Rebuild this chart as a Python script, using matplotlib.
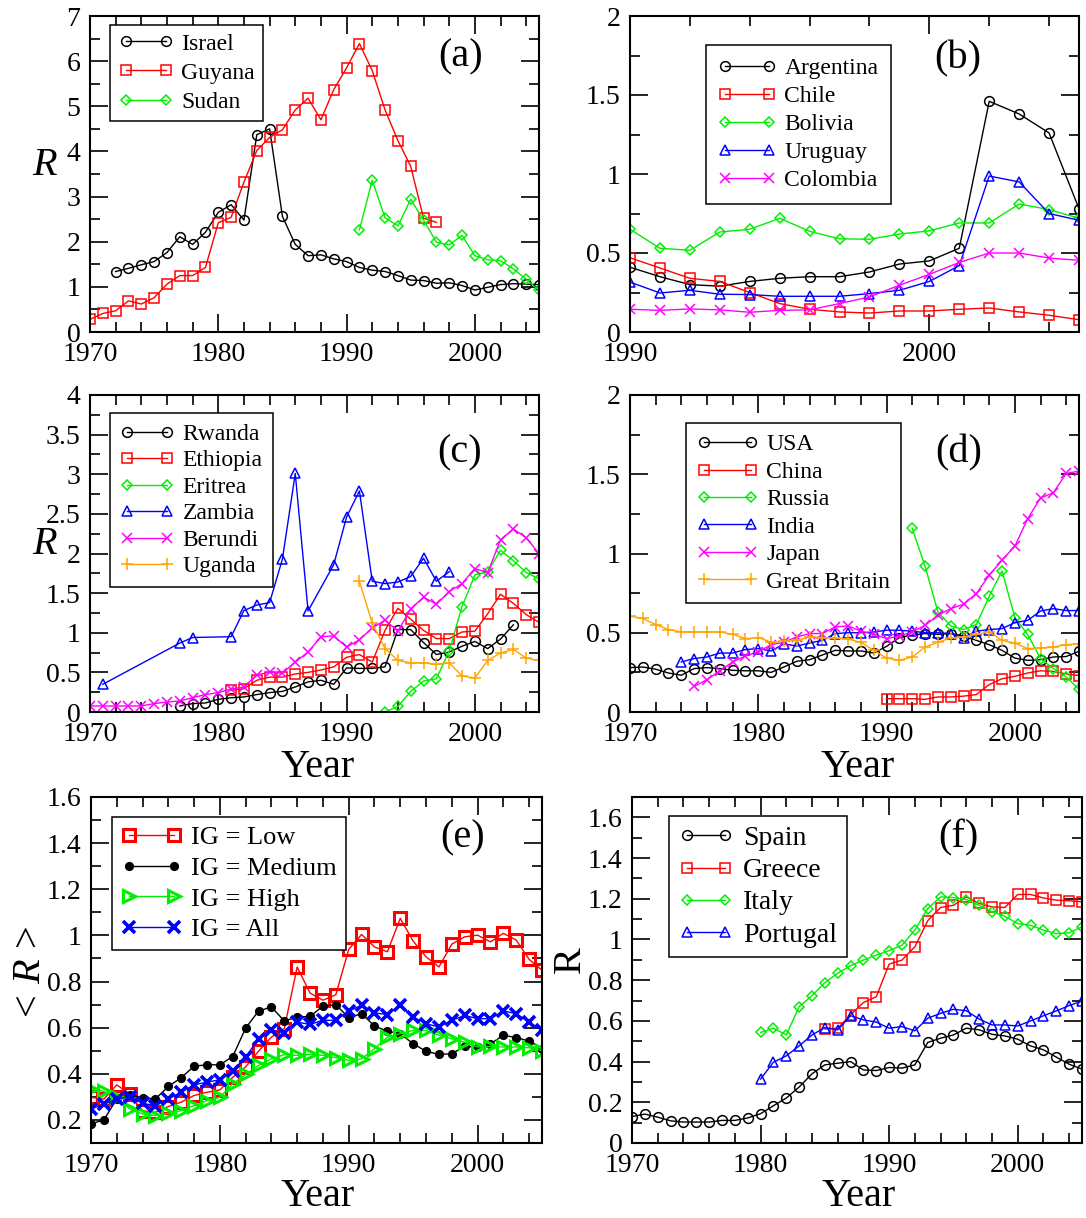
import matplotlib
matplotlib.use('Agg')
import matplotlib.pyplot as plt
from matplotlib.ticker import MultipleLocator, FuncFormatter

plt.rcParams['font.family'] = ['Liberation Serif', 'DejaVu Serif']
plt.rcParams['mathtext.fontset'] = 'custom'
plt.rcParams['mathtext.rm'] = 'Liberation Serif'
plt.rcParams['mathtext.it'] = 'Liberation Serif:italic'

# ---------------- panel (a) ----------------
israel_years = list(range(1972, 2006))
israel = [1.34, 1.41, 1.49, 1.56, 1.76, 2.11, 1.94, 2.21, 2.65, 2.82,
          2.48, 4.37, 4.50, 2.56, 1.94, 1.69, 1.71, 1.62, 1.56, 1.43,
          1.37, 1.34, 1.25, 1.15, 1.14, 1.08, 1.09, 1.03, 0.93, 0.99,
          1.05, 1.07, 1.06, 1.05]
guyana_years = list(range(1970, 1998))
guyana = [0.28, 0.41, 0.47, 0.69, 0.62, 0.76, 1.06, 1.25, 1.25, 1.43,
          2.42, 2.54, 3.32, 4.02, 4.31, 4.48, 4.92, 5.18, 4.70, 5.37,
          5.85, 6.39, 5.79, 4.92, 4.24, 3.67, 2.52, 2.43]
sudan_years = list(range(1991, 2006))
sudan = [2.26, 3.36, 2.53, 2.35, 2.94, 2.48, 1.99, 1.93, 2.14, 1.69,
         1.60, 1.58, 1.40, 1.17, 0.92]

# ---------------- panel (b) ----------------
b_years = list(range(1990, 2006))
argentina = [0.41, 0.35, 0.30, 0.29, 0.32, 0.34, 0.35, 0.35, 0.38, 0.43,
             0.45, 0.53, 1.46, 1.38, 1.26, 0.78]
chile = [0.47, 0.405, 0.34, 0.32, 0.25, 0.18, 0.144, 0.127, 0.12, 0.133,
         0.133, 0.144, 0.152, 0.127, 0.106, 0.078]
bolivia = [0.65, 0.53, 0.517, 0.633, 0.65, 0.72, 0.637, 0.59, 0.587, 0.62,
           0.64, 0.69, 0.69, 0.81, 0.775, 0.72]
uruguay = [0.316, 0.247, 0.264, 0.239, 0.237, 0.226, 0.226, 0.226, 0.243, 0.264,
           0.32, 0.42, 0.987, 0.95, 0.75, 0.707]
colombia = [0.144, 0.137, 0.146, 0.14, 0.125, 0.137, 0.14, 0.18, 0.222, 0.296,
            0.365, 0.44, 0.50, 0.50, 0.468, 0.454]

# ---------------- panel (c) ----------------
rwanda_years = list(range(1977, 2004))
rwanda = [0.076, 0.106, 0.114, 0.16, 0.18, 0.19, 0.22, 0.245, 0.26, 0.316,
          0.38, 0.40, 0.35, 0.556, 0.55, 0.55, 0.57, 1.04, 1.04, 0.876,
          0.725, 0.757, 0.83, 0.89, 0.80, 0.92, 1.10]
ethiopia_years = list(range(1981, 2006))
ethiopia = [0.274, 0.295, 0.40, 0.44, 0.44, 0.48, 0.50, 0.53, 0.57, 0.69,
            0.725, 0.63, 1.03, 1.31, 1.17, 1.03, 0.926, 0.926, 1.01, 1.02,
            1.24, 1.486, 1.37, 1.23, 1.13]
eritrea_years = list(range(1993, 2006))
eritrea = [0.0, 0.07, 0.26, 0.39, 0.42, 0.77, 1.33, 1.73, 1.77, 2.04,
           1.91, 1.76, 1.68]
zambia_years = [1971, 1977, 1978, 1981, 1982, 1983, 1984, 1985, 1986, 1987,
                1989, 1990, 1991, 1992, 1993, 1994, 1995, 1996, 1997, 1998]
zambia = [0.35, 0.87, 0.94, 0.95, 1.28, 1.35, 1.38, 1.93, 3.01, 1.275,
          1.86, 2.46, 2.79, 1.65, 1.62, 1.64, 1.71, 1.94, 1.65, 1.77]
berundi_years = list(range(1970, 2006))
berundi = [0.076, 0.076, 0.076, 0.076, 0.076, 0.106, 0.126, 0.14, 0.18, 0.22,
           0.245, 0.29, 0.315, 0.47, 0.50, 0.49, 0.63, 0.757, 0.95, 0.96,
           0.82, 0.91, 1.06, 1.16, 1.02, 1.30, 1.45, 1.36, 1.52, 1.62,
           1.81, 1.76, 2.17, 2.31, 2.20, 2.0]
uganda_years = list(range(1991, 2006))
uganda = [1.65, 1.12, 0.80, 0.65, 0.62, 0.62, 0.60, 0.62, 0.455, 0.43,
          0.65, 0.745, 0.79, 0.68, 0.65]

# ---------------- panel (d) ----------------
usa_years = list(range(1970, 2006))
usa = [0.28, 0.284, 0.27, 0.246, 0.232, 0.274, 0.28, 0.274, 0.263, 0.26,
       0.26, 0.25, 0.284, 0.32, 0.33, 0.36, 0.389, 0.385, 0.385, 0.372,
       0.414, 0.47, 0.485, 0.495, 0.49, 0.495, 0.48, 0.452, 0.425, 0.389,
       0.34, 0.326, 0.33, 0.347, 0.35, 0.383]
china_years = list(range(1990, 2006))
china = [0.084, 0.084, 0.084, 0.08, 0.095, 0.095, 0.1, 0.11, 0.173, 0.21,
         0.225, 0.246, 0.26, 0.256, 0.24, 0.23]
russia_years = list(range(1992, 2006))
russia = [1.158, 0.92, 0.632, 0.543, 0.52, 0.552, 0.73, 0.89, 0.596, 0.489,
          0.337, 0.274, 0.221, 0.143]
india_years = list(range(1974, 2006))
india = [0.316, 0.337, 0.347, 0.372, 0.372, 0.394,
         0.40, 0.385, 0.43, 0.416, 0.435, 0.452, 0.495, 0.50, 0.50, 0.505,
         0.516, 0.516, 0.51, 0.50, 0.50, 0.495, 0.47, 0.51, 0.52, 0.526,
         0.564, 0.578, 0.637, 0.652, 0.64, 0.64]
japan_years = list(range(1975, 2006))
japan = [0.162, 0.204, 0.26, 0.316, 0.354,
         0.38, 0.425, 0.44, 0.474, 0.495, 0.495, 0.537, 0.543, 0.51, 0.49,
         0.463, 0.48, 0.505, 0.547, 0.61, 0.652, 0.68, 0.747, 0.863, 0.958,
         1.046, 1.22, 1.35, 1.383, 1.505, 1.52]
britain_years = list(range(1970, 2006))
britain = [0.605, 0.59, 0.552, 0.52, 0.505, 0.505, 0.505, 0.505, 0.49, 0.463,
           0.47, 0.44, 0.445, 0.452, 0.474, 0.47, 0.467, 0.46, 0.44, 0.389,
           0.34, 0.326, 0.347, 0.41, 0.44, 0.467, 0.474, 0.49, 0.505, 0.452,
           0.435, 0.40, 0.404, 0.41, 0.425, 0.43]

# ---------------- panel (e) ----------------
e_years = list(range(1970, 2006))
ig_low = [0.298, 0.29, 0.352, 0.313, 0.24, 0.233, 0.258, 0.277, 0.306, 0.32,
          0.33, 0.385, 0.43, 0.498, 0.559, 0.596, 0.863, 0.75, 0.719, 0.743,
          0.939, 1.004, 0.95, 0.929, 1.074, 0.975, 0.907, 0.863, 0.962, 0.994,
          1.001, 0.972, 1.009, 0.98, 0.896, 0.849]
ig_medium = [0.183, 0.2, 0.291, 0.31, 0.296, 0.291, 0.345, 0.383, 0.433, 0.439,
             0.439, 0.475, 0.598, 0.672, 0.69, 0.629, 0.646, 0.649, 0.693, 0.70,
             0.643, 0.661, 0.607, 0.585, 0.574, 0.53, 0.498, 0.484, 0.487, 0.519,
             0.516, 0.53, 0.567, 0.557, 0.542, 0.509]
ig_high = [0.335, 0.324, 0.298, 0.248, 0.226, 0.219, 0.229, 0.24, 0.262, 0.284,
           0.298, 0.357, 0.397, 0.436, 0.465, 0.483, 0.48, 0.484, 0.48, 0.47,
           0.458, 0.465, 0.509, 0.559, 0.574, 0.588, 0.588, 0.567, 0.552, 0.537,
           0.516, 0.519, 0.516, 0.516, 0.513, 0.501]
ig_all = [0.248, 0.267, 0.291, 0.301, 0.272, 0.262, 0.291, 0.32, 0.352, 0.364,
          0.374, 0.414, 0.472, 0.552, 0.588, 0.577, 0.624, 0.614, 0.632, 0.632,
          0.672, 0.697, 0.664, 0.657, 0.697, 0.646, 0.617, 0.603, 0.632, 0.653,
          0.639, 0.639, 0.672, 0.661, 0.624, 0.588]

# ---------------- panel (f) ----------------
spain_years = list(range(1970, 2006))
spain = [0.13, 0.142, 0.127, 0.109, 0.103, 0.103, 0.103, 0.111, 0.111, 0.123,
         0.144, 0.183, 0.221, 0.275, 0.34, 0.384, 0.392, 0.40, 0.359, 0.356,
         0.371, 0.368, 0.384, 0.494, 0.515, 0.531, 0.564, 0.556, 0.534, 0.526,
         0.51, 0.477, 0.458, 0.422, 0.387, 0.363]
greece_years = list(range(1985, 2006))
greece = [0.56, 0.564, 0.63, 0.69, 0.719,
          0.879, 0.899, 0.964, 1.092, 1.157, 1.168, 1.209, 1.177, 1.16, 1.157,
          1.221, 1.221, 1.204, 1.193, 1.19, 1.185]
italy_years = list(range(1980, 2006))
italy = [0.543, 0.564, 0.531, 0.67, 0.724, 0.788, 0.834, 0.871, 0.899, 0.923,
         0.945, 0.972, 1.046, 1.152, 1.209, 1.206, 1.196, 1.168, 1.136, 1.114,
         1.078, 1.07, 1.046, 1.029, 1.033, 1.062]
portugal_years = list(range(1980, 2006))
portugal = [0.314, 0.397, 0.428, 0.477, 0.531, 0.567, 0.556, 0.625, 0.605, 0.594,
            0.564, 0.572, 0.551, 0.613, 0.637, 0.657, 0.65, 0.609, 0.58, 0.58,
            0.575, 0.6, 0.625, 0.649, 0.675, 0.698]

BLACK, RED, GREEN, BLUE, MAGENTA, ORANGE = 'k', '#ff0000', '#00ee00', '#0000ff', '#ff00ff', '#ffa500'
MS = {'o': 7, 's': 6.5, 'D': 5.3, '^': 7, 'x': 7, '+': 9}

W, H = 1086, 1218
fig = plt.figure(figsize=(W / 100, H / 100), dpi=100)


def panel(l, t, r, b):
    return fig.add_axes([l / W, 1 - b / H, (r - l) / W, (b - t) / H])


def series(ax, x, y, color, marker, label, ms=None, mew=1.1, lw=1.0, fill=False):
    ax.plot(x, y, color=color, lw=lw, marker=marker,
            ms=ms if ms else MS[marker], mew=mew,
            mfc=color if fill else 'none', mec=color, label=label)


def style(ax, xlim, ylim, ymaj, ymin, tag, tagpos):
    ax.set_xlim(*xlim)
    ax.set_ylim(*ylim)
    ax.xaxis.set_major_locator(MultipleLocator(10))
    ax.xaxis.set_minor_locator(MultipleLocator(2))
    ax.yaxis.set_major_locator(MultipleLocator(ymaj))
    ax.yaxis.set_minor_locator(MultipleLocator(ymin))
    ax.yaxis.set_major_formatter(FuncFormatter(lambda v, p: '%g' % round(v, 6)))
    ax.tick_params(which='both', direction='in', top=True, right=True,
                   width=1.2, labelsize=20)
    ax.tick_params(which='major', length=13, pad=7)
    ax.tick_params(which='minor', length=7)
    for s in ax.spines.values():
        s.set_linewidth(1.5)
    ax.text(tagpos[0], tagpos[1], tag, transform=ax.transAxes,
            fontsize=29, ha='center', va='center')


def legend(ax, anchor, fs=17, spacing=0.2, hl=2.3, bpad=0.35):
    lg = ax.legend(loc='upper left', bbox_to_anchor=anchor, borderaxespad=0,
                   numpoints=2, fontsize=fs, handlelength=hl, handletextpad=0.35,
                   labelspacing=spacing, borderpad=bpad, fancybox=False,
                   framealpha=1, edgecolor='k')
    lg.get_frame().set_linewidth(1.1)


def year_label(ax, pos):
    ax.set_xlabel('Year', fontsize=29, va='center')
    ax.xaxis.set_label_coords(*pos)


def r_label(ax, text, pos, rot):
    ax.set_ylabel(text, fontsize=29, rotation=rot, va='center', ha='center')
    ax.yaxis.set_label_coords(*pos)


# (a)
ax = panel(90, 16, 539, 332)
series(ax, israel_years, israel, BLACK, 'o', 'Israel')
series(ax, guyana_years, guyana, RED, 's', 'Guyana')
series(ax, sudan_years, sudan, GREEN, 'D', 'Sudan')
style(ax, (1970, 2005), (0, 7), 1, 0.5, '(a)', (0.826, 0.871))
legend(ax, (0.045, 0.972), spacing=0.32)
r_label(ax, '$R$', (-0.1, 0.528), 0)

# (b)
ax = panel(630, 16, 1079, 332)
series(ax, b_years, argentina, BLACK, 'o', 'Argentina')
series(ax, b_years, chile, RED, 's', 'Chile')
series(ax, b_years, bolivia, GREEN, 'D', 'Bolivia')
series(ax, b_years, uruguay, BLUE, '^', 'Uruguay')
series(ax, b_years, colombia, MAGENTA, 'x', 'Colombia')
style(ax, (1990, 2005), (0, 2), 0.5, 0.25, '(b)', (0.731, 0.863))
legend(ax, (0.169, 0.908), spacing=0.28, hl=2.45, bpad=0.52)

# (c)
ax = panel(90, 395, 539, 712)
series(ax, rwanda_years, rwanda, BLACK, 'o', 'Rwanda')
series(ax, ethiopia_years, ethiopia, RED, 's', 'Ethiopia')
series(ax, eritrea_years, eritrea, GREEN, 'D', 'Eritrea')
series(ax, zambia_years, zambia, BLUE, '^', 'Zambia')
series(ax, berundi_years, berundi, MAGENTA, 'x', 'Berundi')
series(ax, uganda_years, uganda, ORANGE, '+', 'Uganda')
style(ax, (1970, 2005), (0, 4), 0.5, 0.25, '(c)', (0.824, 0.816))
legend(ax, (0.045, 0.942), spacing=0.21, bpad=0.42)
r_label(ax, '$R$', (-0.1, 0.527), 0)
year_label(ax, (0.506, -0.174))

# (d)
ax = panel(630, 395, 1079, 712)
series(ax, usa_years, usa, BLACK, 'o', 'USA')
series(ax, china_years, china, RED, 's', 'China')
series(ax, russia_years, russia, GREEN, 'D', 'Russia')
series(ax, india_years, india, BLUE, '^', 'India')
series(ax, japan_years, japan, MAGENTA, 'x', 'Japan')
series(ax, britain_years, britain, ORANGE, '+', 'Great Britain')
style(ax, (1970, 2005), (0, 2), 0.5, 0.25, '(d)', (0.731, 0.816))
legend(ax, (0.125, 0.911), spacing=0.25, hl=2.6, bpad=0.45)
year_label(ax, (0.506, -0.174))

# (e)
ax = panel(91, 797, 542, 1143)
series(ax, e_years, ig_low, RED, 's', 'IG = Low', ms=8, mew=2.2)
series(ax, e_years, ig_medium, BLACK, 'o', 'IG = Medium', ms=5.5, fill=True)
series(ax, e_years, ig_high, GREEN, '>', 'IG = High', ms=9, mew=2.2)
series(ax, e_years, ig_all, BLUE, 'x', 'IG = All', ms=8, mew=2.6)
style(ax, (1970, 2005), (0.1, 1.6), 0.2, 0.1, '(e)', (0.824, 0.881))
legend(ax, (0.046, 0.943), fs=19, spacing=0.27, hl=2.3)
r_label(ax, r'$<\,R\,>$', (-0.135, 0.486), 90)
year_label(ax, (0.503, -0.156))

# (f)
ax = panel(632, 797, 1082, 1143)
series(ax, spain_years, spain, BLACK, 'o', 'Spain')
series(ax, greece_years, greece, RED, 's', 'Greece')
series(ax, italy_years, italy, GREEN, 'D', 'Italy', ms=5.6)
series(ax, portugal_years, portugal, BLUE, '^', 'Portugal', ms=7.5)
style(ax, (1970, 2005), (0, 1.7), 0.2, 0.1, '(f)', (0.725, 0.881))
legend(ax, (0.083, 0.945), fs=20, spacing=0.24, hl=1.95)
r_label(ax, 'R', (-0.138, 0.529), 90)
year_label(ax, (0.503, -0.156))

fig.savefig('out.png', dpi=100)
